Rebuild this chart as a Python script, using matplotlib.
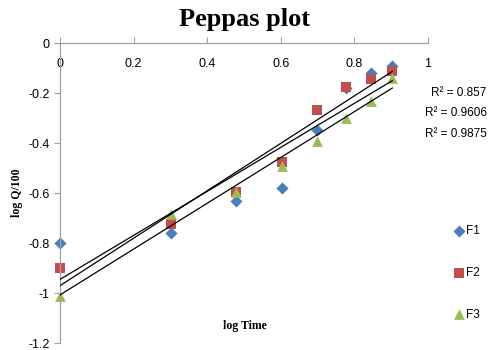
import numpy as np
import matplotlib
matplotlib.use("Agg")
import matplotlib.pyplot as plt

log_time = [0.0, 0.301, 0.477, 0.602, 0.699, 0.778, 0.845, 0.903]
f1 = [-0.80, -0.76, -0.632, -0.58, -0.348, -0.18, -0.12, -0.09]
f2 = [-0.90, -0.725, -0.596, -0.475, -0.268, -0.175, -0.145, -0.11]
f3 = [-1.01, -0.685, -0.595, -0.49, -0.39, -0.30, -0.23, -0.14]
series_names = ["F1", "F2", "F3"]
r2_labels = ["R² = 0.857", "R² = 0.9606", "R² = 0.9875"]
x_ticks = [0, 0.2, 0.4, 0.6, 0.8, 1]
y_ticks = [0, -0.2, -0.4, -0.6, -0.8, -1, -1.2]

colors = ["#4a7ebb", "#c0504d", "#9bbb59"]
markers = ["D", "s", "^"]
sizes = [38, 60, 60]

fig = plt.figure(figsize=(4.89, 3.5), dpi=100)
ax = fig.add_axes([0.1227, 0.02, 0.7526, 0.857])

x = np.array(log_time)
for ys, c, m, s, name in zip([f1, f2, f3], colors, markers, sizes, series_names):
    ys = np.array(ys)
    k, b = np.polyfit(x, ys, 1)
    xx = np.array([x.min(), x.max()])
    ax.plot(xx, k * xx + b, color="black", lw=0.9, zorder=3)
    ax.scatter(x, ys, marker=m, s=s, color=c, label=name, zorder=2, linewidths=0,
               clip_on=False)

ax.set_xlim(0, 1)
ax.set_ylim(-1.2, 0)
ax.set_xticks(x_ticks)
ax.set_xticklabels([f"{t:g}" for t in x_ticks])
ax.set_yticks(y_ticks)
ax.set_yticklabels([f"{t:g}" for t in y_ticks])

for sp in ["top", "right"]:
    ax.spines[sp].set_visible(False)
ax.spines["bottom"].set_position(("data", 0))
for sp in ["bottom", "left"]:
    ax.spines[sp].set_color("#a0a0a0")
    ax.spines[sp].set_linewidth(0.9)
ax.tick_params(axis="x", direction="in", length=4, color="#a0a0a0", labelsize=9, pad=11)
ax.tick_params(axis="y", direction="out", length=4, color="#a0a0a0", labelsize=9)
for lab in ax.get_xticklabels() + ax.get_yticklabels():
    lab.set_fontfamily("Liberation Sans")

fig.text(0.50, 0.943, "Peppas plot", fontsize=19, fontweight="bold",
         fontfamily="Liberation Serif", ha="center", va="center")
fig.text(0.50, 0.07, "log Time", fontsize=8.5, fontweight="bold",
         fontfamily="Liberation Serif", ha="center", va="center")
fig.text(0.035, 0.45, "log Q/100", fontsize=8.5, fontweight="bold",
         fontfamily="Liberation Serif", ha="center", va="center", rotation=90)

for i, t in enumerate(r2_labels):
    fig.text(0.995, 1 - (93 + 20.5 * i) / 350, t, fontsize=8.5, ha="right", va="center",
             fontfamily="Liberation Sans")

leg = fig.legend(loc="center left", bbox_to_anchor=(0.905, 0.22), frameon=False,
                 handletextpad=0.1, labelspacing=2.5, handlelength=1.0,
                 prop={"family": "Liberation Sans", "size": 8.5})

fig.savefig("out.png", dpi=100)
